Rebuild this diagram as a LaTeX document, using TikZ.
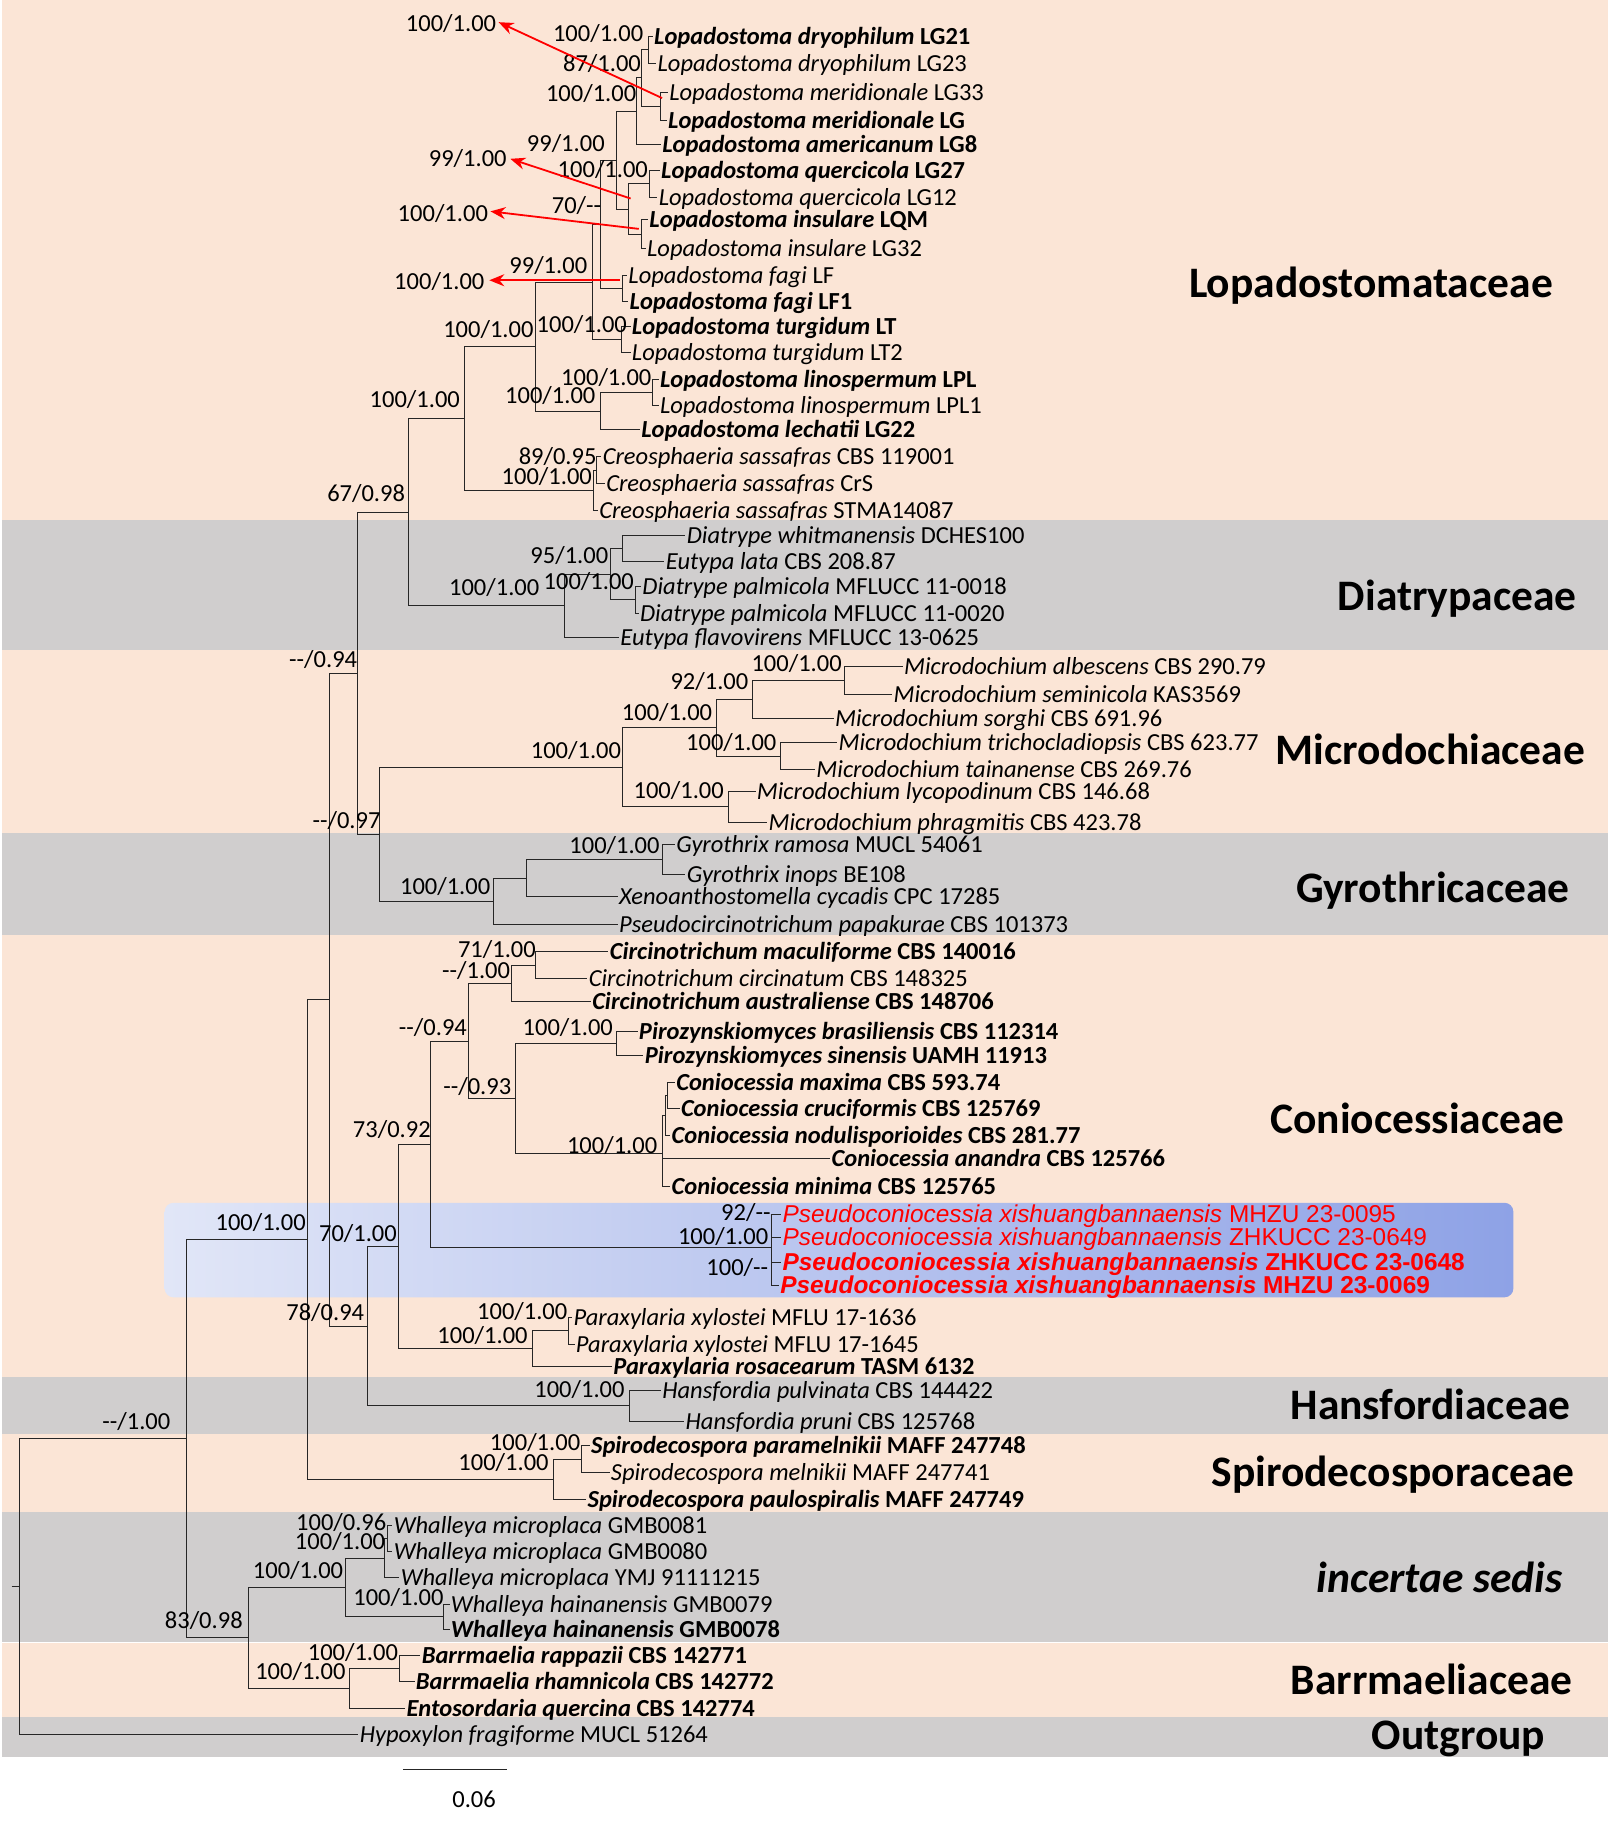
\documentclass[tikz,border=0pt]{standalone}
\usepackage{fontspec}
\setmainfont{Carlito}
\newfontfamily\arialf{Liberation Sans}
\usetikzlibrary{arrows.meta,calc}
\definecolor{peach}{HTML}{FBE5D6}
\definecolor{bandgray}{HTML}{D0CECE}
\definecolor{hlL}{HTML}{E1E6F7}
\definecolor{hlR}{HTML}{8EA2E6}
\definecolor{pred}{HTML}{FF0000}
\newcommand\br[2]{\draw[branch] (#1) |- (#2);}
\newcommand\gs[2]{\textit{#1} #2}
\newcommand\dd{-{}-}
\begin{document}
\begin{tikzpicture}[x=1.1675pt,y=-1.1675pt,
  taxa/.style={anchor=west,inner sep=1.2pt,font=\fontsize{24.5}{28}\selectfont,text height=21pt,text depth=5pt},
  taxb/.style={taxa,font=\fontsize{24.5}{28}\selectfont\bfseries},
  taxr/.style={taxa,text=pred,font=\fontsize{24.4}{28}\selectfont\arialf},
  taxrb/.style={taxr,font=\fontsize{24.4}{28}\selectfont\arialf\bfseries},
  supp/.style={anchor=east,inner sep=0pt,font=\fontsize{24.5}{28}\selectfont,text height=21pt,text depth=5pt},
  famlab/.style={inner sep=0pt,font=\fontsize{43.5}{48}\selectfont\bfseries},
  branch/.style={draw=black!85,line width=1pt},
  redarr/.style={draw=pred,line width=1.8pt,-{Stealth[length=15pt,width=12pt]}}]
\useasboundingbox (0,0) rectangle (1379,1568);
% bands
\fill[peach] (2,0) rectangle (1377,445);
\fill[bandgray] (2,445) rectangle (1377,557);
\fill[peach] (2,557) rectangle (1377,713);
\fill[bandgray] (2,713) rectangle (1377,801);
\fill[peach] (2,801) rectangle (1377,1179);
\fill[bandgray] (2,1179) rectangle (1377,1228);
\fill[peach] (2,1228) rectangle (1377,1295);
\fill[bandgray] (2,1295) rectangle (1377,1406);
\fill[peach] (2,1407) rectangle (1377,1470);
\fill[bandgray] (2,1470) rectangle (1377,1505);
\shade[left color=hlL,right color=hlR,rounded corners=9pt] (141,1030) rectangle (1296,1111);
% family labels
\node[famlab] (f1) at (1174,245) {Lopadostomataceae};
\node[famlab] (f2) at (1248,513) {Diatrypaceae};
\node[famlab] (f3) at (1225,642) {Microdochiaceae};
\node[famlab] (f4) at (1227,763) {Gyrothricaceae};
\node[famlab] (f5) at (1214,958) {Coniocessiaceae};
\node[famlab] (f6) at (1225,1203) {Hansfordiaceae};
\node[famlab] (f7) at (1193,1263) {Spirodecosporaceae};
\node[famlab] (f8) at (1233,1351) {\textit{incertae sedis}};
\node[famlab] (f9) at (1226,1438) {Barrmaeliaceae};
\node[famlab] (f10) at (1249,1489) {Outgroup};
% taxa
\node[taxb] (t1) at (559,31) {\gs{Lopadostoma dryophilum}{LG21}};
\node[taxa] (t2) at (562,54) {\gs{Lopadostoma dryophilum}{LG23}};
\node[taxa] (t3) at (572,79) {\gs{Lopadostoma meridionale}{LG33}};
\node[taxb] (t4) at (571,103) {\gs{Lopadostoma meridionale}{LG}};
\node[taxb] (t5) at (566,124) {\gs{Lopadostoma americanum}{LG8}};
\node[taxb] (t6) at (565,146) {\gs{Lopadostoma quercicola}{LG27}};
\node[taxa] (t7) at (563,169) {\gs{Lopadostoma quercicola}{LG12}};
\node[taxb] (t8) at (555,188) {\gs{Lopadostoma insulare}{LQM}};
\node[taxa] (t9) at (553,213) {\gs{Lopadostoma insulare}{LG32}};
\node[taxa] (t10) at (537,236) {\gs{Lopadostoma fagi}{LF}};
\node[taxb] (t11) at (538,258) {\gs{Lopadostoma fagi}{LF1}};
\node[taxb] (t12) at (540,280) {\gs{Lopadostoma turgidum}{LT}};
\node[taxa] (t13) at (540,302) {\gs{Lopadostoma turgidum}{LT2}};
\node[taxb] (t14) at (564,325) {\gs{Lopadostoma linospermum}{LPL}};
\node[taxa] (t15) at (564,347) {\gs{Lopadostoma linospermum}{LPL1}};
\node[taxb] (t16) at (548,368) {\gs{Lopadostoma lechatii}{LG22}};
\node[taxa] (t17) at (515,391) {\gs{Creosphaeria sassafras}{CBS 119001}};
\node[taxa] (t18) at (518,414) {\gs{Creosphaeria sassafras}{CrS}};
\node[taxa] (t19) at (512,437) {\gs{Creosphaeria sassafras}{STMA14087}};
\node[taxa] (t20) at (587,459) {\gs{Diatrype whitmanensis}{DCHES100}};
\node[taxa] (t21) at (569,481) {\gs{Eutypa lata}{CBS 208.87}};
\node[taxa] (t22) at (549,502) {\gs{Diatrype palmicola}{MFLUCC 11-0018}};
\node[taxa] (t23) at (547,525) {\gs{Diatrype palmicola}{MFLUCC 11-0020}};
\node[taxa] (t24) at (530,546) {\gs{Eutypa flavovirens}{MFLUCC 13-0625}};
\node[taxa] (t25) at (773,571) {\gs{Microdochium albescens}{CBS 290.79}};
\node[taxa] (t26) at (764,595) {\gs{Microdochium seminicola}{KAS3569}};
\node[taxa] (t27) at (714,615) {\gs{Microdochium sorghi}{CBS 691.96}};
\node[taxa] (t28) at (717,636) {\gs{Microdochium trichocladiopsis}{CBS 623.77}};
\node[taxa] (t29) at (698,659) {\gs{Microdochium tainanense}{CBS 269.76}};
\node[taxa] (t30) at (647,678) {\gs{Microdochium lycopodinum}{CBS 146.68}};
\node[taxa] (t31) at (657,704) {\gs{Microdochium phragmitis}{CBS 423.78}};
\node[taxa] (t32) at (578,723) {\gs{Gyrothrix ramosa}{MUCL 54061}};
\node[taxa] (t33) at (587,749) {\gs{Gyrothrix inops}{BE108}};
\node[taxa] (t34) at (529,768) {\gs{Xenoanthostomella cycadis}{CPC 17285}};
\node[taxa] (t35) at (529,792) {\gs{Pseudocircinotrichum papakurae}{CBS 101373}};
\node[taxb] (t36) at (521,815) {\gs{Circinotrichum maculiforme}{CBS 140016}};
\node[taxa] (t37) at (503,838) {\gs{Circinotrichum circinatum}{CBS 148325}};
\node[taxb] (t38) at (506,858) {\gs{Circinotrichum australiense}{CBS 148706}};
\node[taxb] (t39) at (546,883) {\gs{Pirozynskiomyces brasiliensis}{CBS 112314}};
\node[taxb] (t40) at (551,904) {\gs{Pirozynskiomyces sinensis}{UAMH 11913}};
\node[taxb] (t41) at (578,927) {\gs{Coniocessia maxima}{CBS 593.74}};
\node[taxb] (t42) at (582,949) {\gs{Coniocessia cruciformis}{CBS 125769}};
\node[taxb] (t43) at (574,972) {\gs{Coniocessia nodulisporioides}{CBS 281.77}};
\node[taxb] (t44) at (711,992) {\gs{Coniocessia anandra}{CBS 125766}};
\node[taxb] (t45) at (574,1016) {\gs{Coniocessia minima}{CBS 125765}};
\node[taxr] (t46) at (669,1040) {\gs{Pseudoconiocessia xishuangbannaensis}{MHZU 23-0095}};
\node[taxr] (t47) at (669,1060) {\gs{Pseudoconiocessia xishuangbannaensis}{ZHKUCC 23-0649}};
\node[taxrb] (t48) at (669,1081) {\gs{Pseudoconiocessia xishuangbannaensis}{ZHKUCC 23-0648}};
\node[taxrb] (t49) at (667,1101) {\gs{Pseudoconiocessia xishuangbannaensis}{MHZU 23-0069}};
\node[taxa] (t50) at (490,1128) {\gs{Paraxylaria xylostei}{MFLU 17-1636}};
\node[taxa] (t51) at (492,1151) {\gs{Paraxylaria xylostei}{MFLU 17-1645}};
\node[taxb] (t52) at (524,1170) {\gs{Paraxylaria rosacearum}{TASM 6132}};
\node[taxa] (t53) at (566,1191) {\gs{Hansfordia pulvinata}{CBS 144422}};
\node[taxa] (t54) at (586,1217) {\gs{Hansfordia pruni}{CBS 125768}};
\node[taxb] (t55) at (505,1238) {\gs{Spirodecospora paramelnikii}{MAFF 247748}};
\node[taxa] (t56) at (522,1261) {\gs{Spirodecospora melnikii}{MAFF 247741}};
\node[taxb] (t57) at (502,1284) {\gs{Spirodecospora paulospiralis}{MAFF 247749}};
\node[taxa] (t58) at (336,1306) {\gs{Whalleya microplaca}{GMB0081}};
\node[taxa] (t59) at (336,1329) {\gs{Whalleya microplaca}{GMB0080}};
\node[taxa] (t60) at (342,1351) {\gs{Whalleya microplaca}{YMJ 91111215}};
\node[taxa] (t61) at (385,1374) {\gs{Whalleya hainanensis}{GMB0079}};
\node[taxb] (t62) at (385,1395) {\gs{Whalleya hainanensis}{GMB0078}};
\node[taxb] (t63) at (360,1418) {\gs{Barrmaelia rappazii}{CBS 142771}};
\node[taxb] (t64) at (355,1440) {\gs{Barrmaelia rhamnicola}{CBS 142772}};
\node[taxb] (t65) at (347,1463) {\gs{Entosordaria quercina}{CBS 142774}};
\node[taxa] (t66) at (307,1485) {\gs{Hypoxylon fragiforme}{MUCL 51264}};
% internal nodes
\coordinate (A) at (555,42.5);
\coordinate (B) at (566,91);
\coordinate (C) at (549,66.75);
\coordinate (D) at (545,95.4);
\coordinate (E) at (556,157.5);
\coordinate (F) at (549,200.5);
\coordinate (G) at (538,179);
\coordinate (H) at (528,137.2);
\coordinate (Fa) at (533,247);
\coordinate (I) at (514,192.1);
\coordinate (Tu) at (532,291);
\coordinate (J) at (507,241.5);
\coordinate (M) at (559,336);
\coordinate (L) at (514,352);
\coordinate (K) at (459,296.8);
\coordinate (N) at (511,402.5);
\coordinate (O) at (508,419.75);
\coordinate (P) at (398,358.3);
\coordinate (R) at (533,470);
\coordinate (S) at (544,513.5);
\coordinate (T) at (523,491.75);
\coordinate (U) at (483,518.9);
\coordinate (Q) at (350,438.6);
\coordinate (Md) at (723,583);
\coordinate (Mc) at (644,599);
\coordinate (Me) at (668,647.5);
\coordinate (Mb) at (614,623.25);
\coordinate (Mf) at (623.5,691);
\coordinate (Ma) at (533,657.1);
\coordinate (Ga) at (567,736);
\coordinate (Gb) at (451,752);
\coordinate (Gc) at (423,772);
\coordinate (W) at (325,714.6);
\coordinate (V) at (306,576.6);
\coordinate (Ca) at (459,826.5);
\coordinate (Cb) at (438,842.25);
\coordinate (Pi) at (527.6,893.5);
\coordinate (Co1) at (572,938);
\coordinate (Co2) at (569.5,955);
\coordinate (Co3) at (567,988);
\coordinate (Cd) at (441.5,940.75);
\coordinate (Cc) at (401,891.5);
\coordinate (Ps) at (661,1068);
\coordinate (Ce) at (368.5,979.75);
\coordinate (Px1) at (486.5,1139.5);
\coordinate (Px2) at (455.6,1154.75);
\coordinate (Cf) at (341,1067.25);
\coordinate (Ha) at (539,1204);
\coordinate (Cg) at (314.5,1135.6);
\coordinate (X) at (282,856.1);
\coordinate (Sp1) at (498,1249.5);
\coordinate (Sp2) at (474,1266.75);
\coordinate (Y) at (263,1061.4);
\coordinate (W1) at (332,1317.5);
\coordinate (W2) at (329,1334.25);
\coordinate (W4) at (380,1384.5);
\coordinate (W3) at (295.5,1359.4);
\coordinate (B1) at (342.5,1429);
\coordinate (B2) at (299,1446);
\coordinate (WB) at (212.5,1402.7);
\coordinate (Z) at (160,1232);
\coordinate (Rt) at (17,1358.5);
\coordinate (Rs) at (10,1358.5);
% branches
\br{A}{t1.west}\br{A}{t2.west}
\br{B}{t3.west}\br{B}{t4.west}
\br{C}{A}\br{C}{B}
\br{D}{C}\br{D}{t5.west}
\br{E}{t6.west}\br{E}{t7.west}
\br{F}{t8.west}\br{F}{t9.west}
\br{G}{E}\br{G}{F}
\br{H}{D}\br{H}{G}
\br{Fa}{t10.west}\br{Fa}{t11.west}
\br{I}{H}\br{I}{Fa}
\br{Tu}{t12.west}\br{Tu}{t13.west}
\br{J}{I}\br{J}{Tu}
\br{M}{t14.west}\br{M}{t15.west}
\br{L}{M}\br{L}{t16.west}
\br{K}{J}\br{K}{L}
\br{N}{t17.west}\br{N}{t18.west}
\br{O}{N}\br{O}{t19.west}
\br{P}{K}\br{P}{O}
\br{R}{t20.west}\br{R}{t21.west}
\br{S}{t22.west}\br{S}{t23.west}
\br{T}{R}\br{T}{S}
\br{U}{T}\br{U}{t24.west}
\br{Q}{P}\br{Q}{U}
\br{V}{Q}\br{V}{W}
\br{Md}{t25.west}\br{Md}{t26.west}
\br{Mc}{Md}\br{Mc}{t27.west}
\br{Me}{t28.west}\br{Me}{t29.west}
\br{Mb}{Mc}\br{Mb}{Me}
\br{Mf}{t30.west}\br{Mf}{t31.west}
\br{Ma}{Mb}\br{Ma}{Mf}
\br{Ga}{t32.west}\br{Ga}{t33.west}
\br{Gb}{Ga}\br{Gb}{t34.west}
\br{Gc}{Gb}\br{Gc}{t35.west}
\br{W}{Ma}\br{W}{Gc}
\br{Ca}{t36.west}\br{Ca}{t37.west}
\br{Cb}{Ca}\br{Cb}{t38.west}
\br{Pi}{t39.west}\br{Pi}{t40.west}
\br{Co1}{t41.west}\br{Co1}{t42.west}
\br{Co2}{Co1}\br{Co2}{t43.west}
\br{Co3}{Co2}\br{Co3}{t44.west}\br{Co3}{t45.west}
\br{Cd}{Pi}\br{Cd}{Co3}
\br{Cc}{Cb}\br{Cc}{Cd}
\br{Ps}{t46.west}\br{Ps}{t47.west}\br{Ps}{t48.west}\br{Ps}{t49.west}
\br{Ce}{Cc}\br{Ce}{Ps}
\br{Px1}{t50.west}\br{Px1}{t51.west}
\br{Px2}{Px1}\br{Px2}{t52.west}
\br{Cf}{Ce}\br{Cf}{Px2}
\br{Ha}{t53.west}\br{Ha}{t54.west}
\br{Cg}{Cf}\br{Cg}{Ha}
\br{X}{V}\br{X}{Cg}
\br{Sp1}{t55.west}\br{Sp1}{t56.west}
\br{Sp2}{Sp1}\br{Sp2}{t57.west}
\br{Y}{X}\br{Y}{Sp2}
\br{W1}{t58.west}\br{W1}{t59.west}
\br{W2}{W1}\br{W2}{t60.west}
\br{W4}{t61.west}\br{W4}{t62.west}
\br{W3}{W2}\br{W3}{W4}
\br{B1}{t63.west}\br{B1}{t64.west}
\br{B2}{B1}\br{B2}{t65.west}
\br{WB}{W3}\br{WB}{B2}
\br{Z}{Y}\br{Z}{WB}
\br{Rt}{Z}\br{Rt}{t66.west}
\draw[branch] (Rs) -- (Rt);
% support values
\node[supp] (s1) at (551,29) {100/1.00};
\node[supp] (s2) at (549,54) {87/1.00};
\node[supp] (s3) at (545,80) {100/1.00};
\node[supp] (s4) at (518,123) {99/1.00};
\node[supp] (s5) at (555,145) {100/1.00};
\node[supp] (s6) at (515,176) {70/\dd};
\node[supp] (s7) at (503,227) {99/1.00};
\node[supp] (s8) at (537,278) {100/1.00};
\node[supp] (s9) at (457,282) {100/1.00};
\node[supp] (s10) at (558,323) {100/1.00};
\node[supp] (s11) at (510,339) {100/1.00};
\node[supp] (s12) at (394,342) {100/1.00};
\node[supp] (s13) at (511,391) {89/0.95};
\node[supp] (s14) at (507,408) {100/1.00};
\node[supp] (s15) at (347,423) {67/0.98};
\node[supp] (s16) at (521,476) {95/1.00};
\node[supp] (s17) at (543,498) {100/1.00};
\node[supp] (s18) at (462,503) {100/1.00};
\node[supp] (s19) at (306,565) {\dd/0.94};
\node[supp] (s20) at (721,568) {100/1.00};
\node[supp] (s21) at (641,584) {92/1.00};
\node[supp] (s22) at (610,610) {100/1.00};
\node[supp] (s23) at (665,636) {100/1.00};
\node[supp] (s24) at (532,643) {100/1.00};
\node[supp] (s25) at (620,677) {100/1.00};
\node[supp] (s26) at (326,703) {\dd/0.97};
\node[supp] (s27) at (565,724) {100/1.00};
\node[supp] (s28) at (420,759) {100/1.00};
\node[supp] (s29) at (459,813) {71/1.00};
\node[supp] (s30) at (437,831) {\dd/1.00};
\node[supp] (s31) at (400,880) {\dd/0.94};
\node[supp] (s32) at (525,880) {100/1.00};
\node[supp] (s33) at (438,930) {\dd/0.93};
\node[supp] (s34) at (369,967) {73/0.92};
\node[supp] (s35) at (563,981) {100/1.00};
\node[supp] (s36) at (660,1038) {92/\dd};
\node[supp] (s37) at (658,1059) {100/1.00};
\node[supp] (s38) at (658,1085) {100/\dd};
\node[supp] (s39) at (262,1047) {100/1.00};
\node[supp] (s40) at (340,1056) {70/1.00};
\node[supp] (s41) at (486,1123) {100/1.00};
\node[supp] (s42) at (312,1124) {78/0.94};
\node[supp] (s43) at (452,1144) {100/1.00};
\node[supp] (s44) at (535,1190) {100/1.00};
\node[supp] (s45) at (146,1217) {\dd/1.00};
\node[supp] (s46) at (497,1235) {100/1.00};
\node[supp] (s47) at (470,1252) {100/1.00};
\node[supp] (s48) at (331,1304) {100/0.96};
\node[supp] (s49) at (330,1320) {100/1.00};
\node[supp] (s50) at (294,1345) {100/1.00};
\node[supp] (s51) at (380,1368) {100/1.00};
\node[supp] (s52) at (208,1388) {83/0.98};
\node[supp] (s53) at (341,1415) {100/1.00};
\node[supp] (s54) at (296,1431) {100/1.00};
% arrowed support values
\node[supp] (a1) at (425,20) {100/1.00};
\node[supp] (a2) at (434,136) {99/1.00};
\node[supp] (a3) at (418,183) {100/1.00};
\node[supp] (a4) at (415,241) {100/1.00};
\coordinate (ar1) at (567,84);
\coordinate (ar2) at (540,170);
\coordinate (ar3) at (547,196);
\coordinate (ar4) at (531,240);
\draw[redarr] (ar1) -- ($(a1.east)+(2,-1)$);
\draw[redarr] (ar2) -- ($(a2.east)+(3,0)$);
\draw[redarr] (ar3) -- ($(a3.east)+(2,-2)$);
\draw[redarr] (ar4) -- ($(a4.east)+(4,-1)$);
% scale bar
\coordinate (sb1) at (345,1515);
\coordinate (sb2) at (434,1515);
\draw[branch] (sb1) -- (sb2);
\node[supp,anchor=center] (sbl) at (406,1541) {0.06};
\end{tikzpicture}
\end{document}
